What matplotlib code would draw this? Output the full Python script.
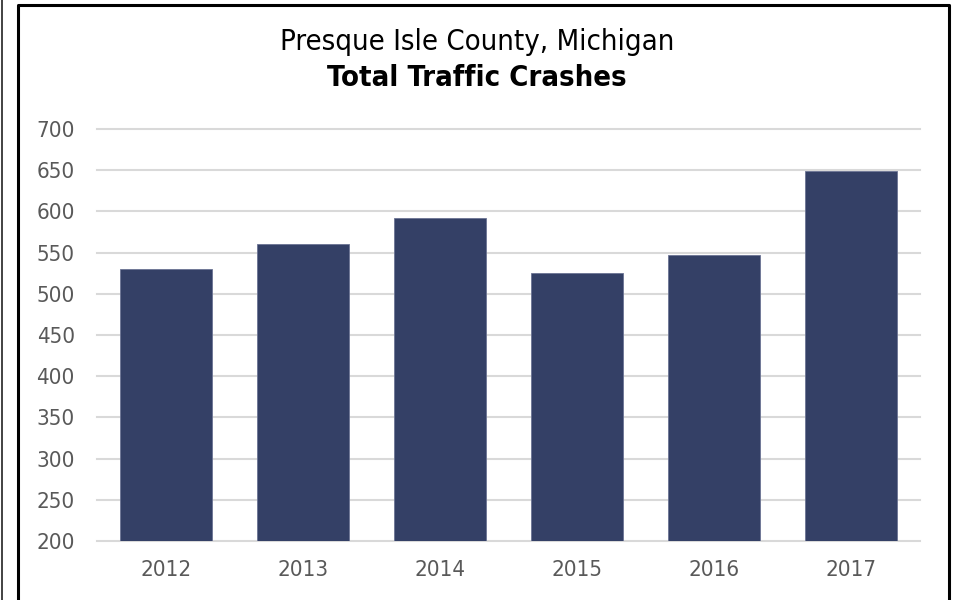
import matplotlib.pyplot as plt
from matplotlib.lines import Line2D

# data
years = ['2012', '2013', '2014', '2015', '2016', '2017']
crashes = [530, 560, 592, 525, 547, 649]
y_ticks = [200, 250, 300, 350, 400, 450, 500, 550, 600, 650, 700]

bar_color = '#344066'
grid_color = '#d9d9d9'
tick_color = '#595959'

plt.rcParams['font.family'] = ['DejaVu Sans']

fig = plt.figure(figsize=(9.54, 6), dpi=100)
ax = fig.add_axes([97 / 954, 1 - 541 / 600, 823 / 954, 412 / 600])

x = range(len(years))
ax.bar(x, crashes, width=0.67, color=bar_color, edgecolor='#6b7394', linewidth=0.6,
       zorder=3)

ax.set_ylim(200, 700)
ax.set_xlim(-0.5, len(years) - 0.5)
ax.set_yticks(y_ticks)
ax.set_xticks(list(x))
ax.set_xticklabels(years)
ax.grid(axis='y', color=grid_color, linewidth=1.5, zorder=0)
for gl in ax.get_ygridlines():
    gl.set_clip_on(False)
ax.tick_params(axis='both', length=0, labelsize=16, colors=tick_color)
ax.tick_params(axis='y', pad=16)
ax.tick_params(axis='x', pad=14)
for lbl in ax.get_xticklabels() + ax.get_yticklabels():
    lbl.set_fontstretch('condensed')
for s in ax.spines.values():
    s.set_visible(False)

fig.text(0.5, 1 - 42 / 600, 'Presque Isle County, Michigan', ha='center', va='center',
         fontsize=21, color='black', fontstretch='condensed')
fig.text(0.5, 1 - 78 / 600, 'Total Traffic Crashes', ha='center', va='center',
         fontsize=21, fontweight='bold', color='black', fontstretch='condensed')

# outer frame
fig.add_artist(Line2D([1.5 / 954, 1.5 / 954], [0, 1], color='#222222', linewidth=1.2))
fig.add_artist(Line2D([18 / 954, 18 / 954, 949.5 / 954, 949.5 / 954],
                      [0, 1 - 5 / 600, 1 - 5 / 600, 0], color='black', linewidth=2.2))

fig.savefig('out.png', dpi=100)
